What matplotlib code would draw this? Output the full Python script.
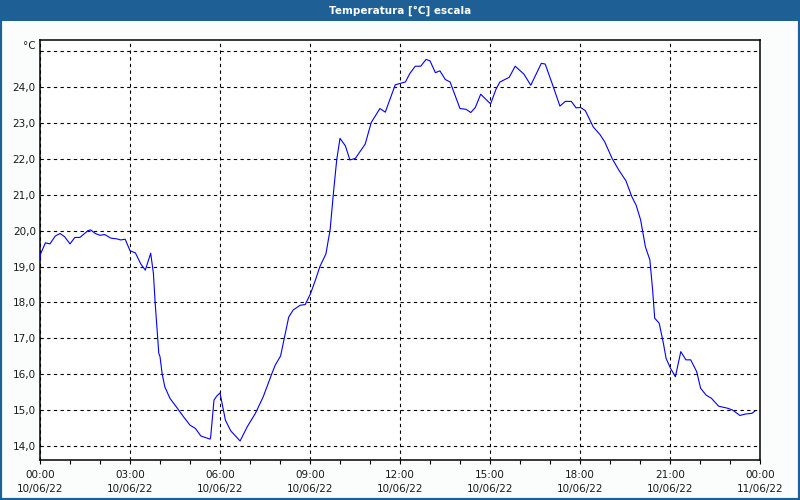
import matplotlib.pyplot as plt
from matplotlib.patches import Rectangle

# time of day in hours (10/06/22) and temperature in °C
hours = [0.0, 0.02, 0.18, 0.33, 0.51, 0.67, 0.82, 1.0, 1.16, 1.33, 1.6, 1.69, 1.84, 2.0,
         2.16, 2.36, 2.56, 2.69, 2.84, 3.0, 3.18, 3.36, 3.51, 3.69, 3.78, 3.84, 3.96, 4.0,
         4.07, 4.16, 4.33, 4.58, 4.78, 5.0, 5.18, 5.36, 5.67, 5.69, 5.8, 5.89, 6.0, 6.18,
         6.36, 6.67, 6.91, 7.18, 7.44, 7.73, 7.84, 8.02, 8.13, 8.29, 8.44, 8.67, 8.84, 9.02,
         9.18, 9.33, 9.53, 9.67, 9.78, 9.89, 10.0, 10.18, 10.33, 10.51, 10.84, 11.04, 11.33,
         11.51, 11.84, 12.0, 12.18, 12.33, 12.51, 12.69, 12.87, 13.0, 13.18, 13.33, 13.51,
         13.67, 14.0, 14.2, 14.36, 14.51, 14.69, 15.02, 15.2, 15.33, 15.64, 15.84, 16.13,
         16.36, 16.71, 16.84, 17.07, 17.33, 17.51, 17.71, 17.87, 18.02, 18.18, 18.44, 18.67,
         18.82, 19.07, 19.29, 19.53, 19.73, 19.87, 20.02, 20.18, 20.33, 20.42, 20.49, 20.64,
         20.78, 20.87, 21.02, 21.18, 21.36, 21.53, 21.69, 21.89, 22.02, 22.2, 22.38, 22.62,
         22.93, 23.09, 23.33, 23.51, 23.73, 23.84]
temps = [19.2, 19.35, 19.66, 19.63, 19.85, 19.92, 19.83, 19.63, 19.81, 19.81, 20.0, 20.02,
         19.92, 19.87, 19.89, 19.79, 19.77, 19.74, 19.76, 19.44, 19.38, 19.07, 18.9, 19.37,
         18.81, 17.97, 16.58, 16.49, 16.02, 15.65, 15.33, 15.05, 14.82, 14.58, 14.49, 14.28,
         14.19, 14.26, 15.28, 15.39, 15.48, 14.72, 14.42, 14.14, 14.54, 14.91, 15.37, 16.02,
         16.25, 16.51, 16.95, 17.59, 17.79, 17.92, 17.94, 18.25, 18.62, 19.0, 19.35, 20.02,
         21.04, 21.97, 22.57, 22.36, 21.97, 22.01, 22.41, 23.01, 23.4, 23.3, 24.06, 24.1,
         24.14, 24.38, 24.58, 24.58, 24.77, 24.73, 24.4, 24.45, 24.21, 24.14, 23.4, 23.38,
         23.29, 23.43, 23.8, 23.53, 23.94, 24.14, 24.27, 24.58, 24.36, 24.05, 24.66, 24.64,
         24.1, 23.47, 23.6, 23.6, 23.42, 23.43, 23.34, 22.89, 22.67, 22.48, 22.01, 21.69,
         21.39, 20.94, 20.71, 20.3, 19.55, 19.18, 18.35, 17.56, 17.42, 16.86, 16.44, 16.16,
         15.93, 16.63, 16.4, 16.4, 16.07, 15.61, 15.42, 15.33, 15.11, 15.05, 15.0, 14.85,
         14.89, 14.91, 14.98]

x_ticks = [0, 3, 6, 9, 12, 15, 18, 21, 24]
x_labels = ['00:00\n10/06/22', '03:00\n10/06/22', '06:00\n10/06/22', '09:00\n10/06/22',
            '12:00\n10/06/22', '15:00\n10/06/22', '18:00\n10/06/22', '21:00\n10/06/22',
            '00:00\n11/06/22']
y_ticks = [14, 15, 16, 17, 18, 19, 20, 21, 22, 23, 24, 25]
y_labels = ['14,0', '15,0', '16,0', '17,0', '18,0', '19,0', '20,0', '21,0', '22,0',
            '23,0', '24,0', '']

bar_blue = '#1e5f96'
txt = '#1a1a1a'

fig = plt.figure(figsize=(8, 5), dpi=100, facecolor='#fbfdfc')
ax = fig.add_axes([0.05, 0.08, 0.9, 0.84])

# title bar
fig.patches.append(Rectangle((0, 1 - 21 / 500), 1, 21 / 500, transform=fig.transFigure,
                             facecolor=bar_blue, edgecolor='none', zorder=0))
fig.patches.append(Rectangle((0, 0), 1, 1, transform=fig.transFigure, fill=False,
                             edgecolor=bar_blue, linewidth=3, zorder=5))
fig.text(0.5, 1 - 10.5 / 500, 'Temperatura [°C] escala', color='white', fontsize=7.5,
         fontweight='bold', ha='center', va='center')

ax.plot(hours, temps, color='#0000ff', linewidth=0.8, zorder=3)

ax.set_xlim(0, 24)
ax.set_ylim(13.61, 25.31)
ax.set_xticks(x_ticks)
ax.set_xticklabels(x_labels, fontsize=7.5, color=txt, linespacing=1.55)
ax.set_xticks(range(25), minor=True)
ax.set_yticks(y_ticks)
ax.set_yticklabels(y_labels, fontsize=7.5, color=txt)

ax.tick_params(axis='x', which='both', direction='out', length=3, width=0.8, pad=4)
ax.tick_params(axis='y', length=0, pad=3)

ax.grid(True, which='major', color='black', linestyle=(0, (3, 3)), linewidth=0.8)
ax.set_axisbelow(True)

for s in ax.spines.values():
    s.set_linewidth(1.1)
    s.set_color('black')

ax.text(-0.006, 25.14, '°C', transform=ax.get_yaxis_transform(), ha='right',
        va='center', fontsize=7.5, color=txt)

fig.savefig('out.png', dpi=100, facecolor=fig.get_facecolor())
